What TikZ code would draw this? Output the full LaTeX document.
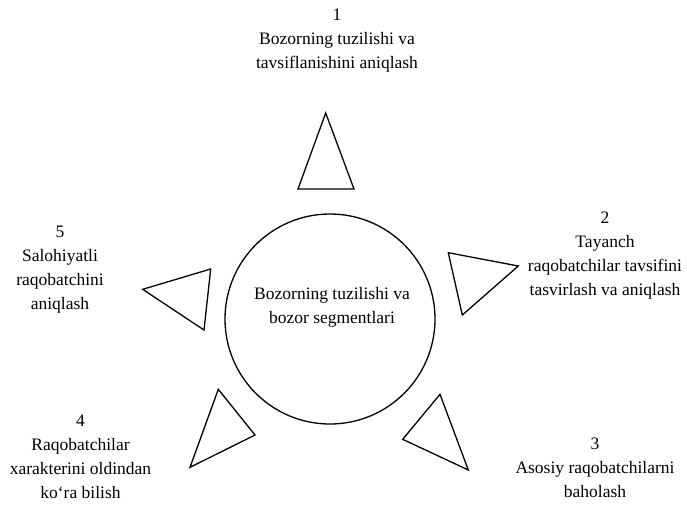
\documentclass[tikz,border=0pt]{standalone}
\usepackage{fontspec}
\setmainfont{Liberation Serif}
\begin{document}
\begin{tikzpicture}[x=1pt,y=-1pt,
  lbl/.style={align=center,anchor=north,inner sep=0pt,
    font=\fontsize{17.5}{24}\selectfont,
    execute at begin node=\strut,execute at end node=\strut},
  tri/.style={draw,line width=1.3pt,line join=miter},
  hub/.style={draw,circle,line width=1.3pt,minimum size=210pt,inner sep=0pt}]
\useasboundingbox (0,0) rectangle (687,507);
\node[hub] (c) at (330,319) {};
\node[lbl] (ct) at (332,287.2) {Bozorning tuzilishi va\\bozor segmentlari};
% triangles
\draw[tri] (325.7,113) -- (354,189) -- (298,189) -- cycle;
\draw[tri] (448.3,252.7) -- (518.3,266) -- (462.3,315) -- cycle;
\draw[tri] (440,394.3) -- (468.3,470) -- (402.7,439.3) -- cycle;
\draw[tri] (218.3,389.3) -- (255,435) -- (190,467.3) -- cycle;
\draw[tri] (142.7,289.3) -- (210.7,269) -- (204,330) -- cycle;
% labels
\node[lbl] (t1) at (337,9.2) {1\\Bozorning tuzilishi va\\tavsiflanishini aniqlash};
\node[lbl] (t2) at (605,211.5) {2\\Tayanch\\raqobatchilar tavsifini\\tasvirlash va aniqlash};
\node[lbl] (t3) at (595,437.5) {3\\Asosiy raqobatchilarni\\baholash};
\node[lbl] (t4) at (80.5,415) {4\\Raqobatchilar\\xarakterini oldindan\\ko‘ra bilish};
\node[lbl] (t5) at (60,226) {5\\Salohiyatli\\raqobatchini\\aniqlash};
\end{tikzpicture}
\end{document}
